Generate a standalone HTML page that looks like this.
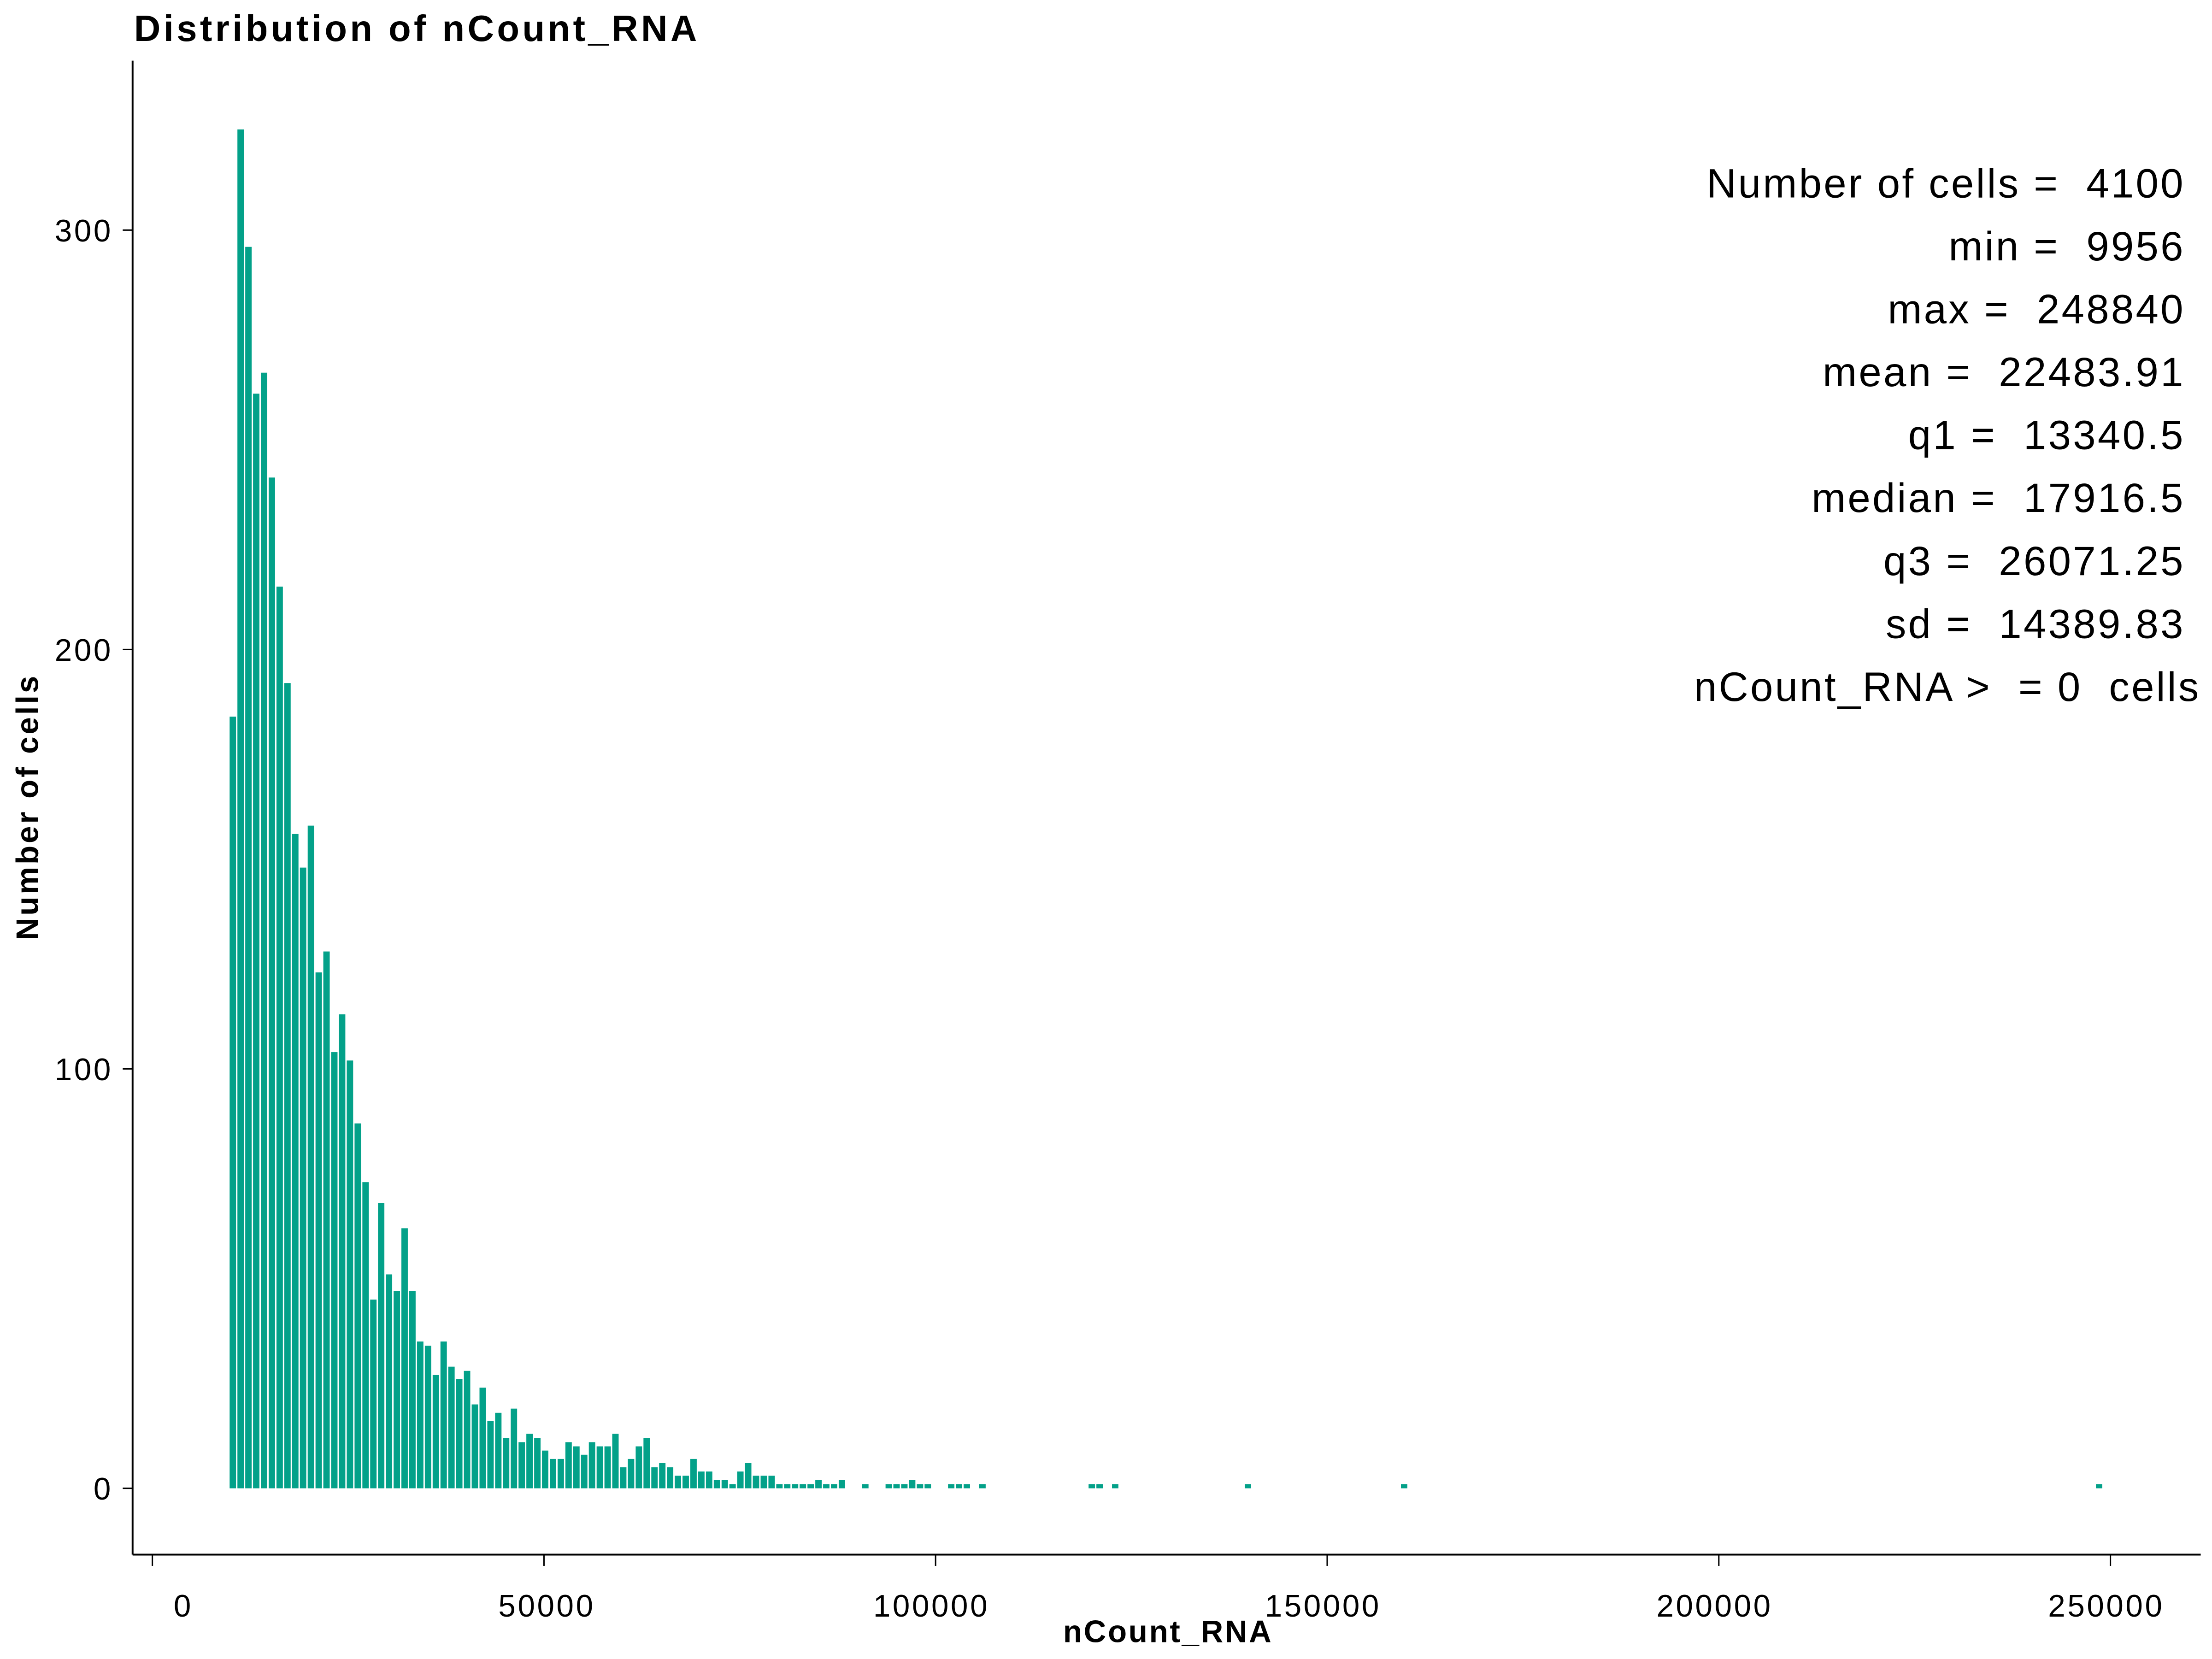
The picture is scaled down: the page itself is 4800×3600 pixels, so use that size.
<!DOCTYPE html>
<html><head><meta charset="utf-8"><style>
html,body{margin:0;padding:0;background:#fff}
svg{display:block}
text{font-family:"Liberation Sans",Arial,sans-serif;fill:#000}
</style></head><body>
<svg id="chart" width="4800" height="3600" viewBox="0 0 1568 1176" preserveAspectRatio="none" xmlns="http://www.w3.org/2000/svg">
<text x="95" y="29" font-size="26" font-weight="bold" letter-spacing="2.1">Distribution of nCount_RNA</text>
<text transform="translate(27,572) rotate(-90)" text-anchor="middle" font-size="22" font-weight="bold" letter-spacing="1.6">Number of cells</text>
<text x="828" y="1164" text-anchor="middle" font-size="22" font-weight="bold" letter-spacing="1.2">nCount_RNA</text>
<g id="bars"></g>
<g id="axes"></g>
<g id="stats"></g>
</svg>
<script>
const binStart = 9774;
const binWidth = 997;
const denseCounts = [184,324,296,261,266,241,215,192,156,148,158,123,128,104,113,102,87,73,45,68,51,47,62,47,35,34,27,35,29,26,28,20,24,16,18,12,19,11,13,12,9,7,7,11,10,8,11,10,10,13,5,7,10,12,5,6,5,3,3,7,4,4,2,2,1,4,6,3,3,3,1,1,1,1,1,2,1,1,2];
const sparseBins = [81,84,85,86,87,88,89,92,93,94,96,110,111,113,130,150,239];
const sparseCounts = [1,1,1,1,2,1,1,1,1,1,1,1,1,1,1,1,1];
const xTicks = [0,50000,100000,150000,200000,250000];
const yTicks = [0,100,200,300];
const statLines = ["Number of cells =  4100","min =  9956","max =  248840","mean =  22483.91","q1 =  13340.5","median =  17916.5","q3 =  26071.25","sd =  14389.83","nCount_RNA >  = 0  cells"];

const NS = "http://www.w3.org/2000/svg";
function xs(v){ return 108 + v * 0.005552; }
function ys(c){ return 1055 - c * 2.973; }
function mk(tag, attrs, parent){
  const e = document.createElementNS(NS, tag);
  for (const k in attrs) e.setAttribute(k, attrs[k]);
  parent.appendChild(e); return e;
}
const bars = document.getElementById('bars');
function drawBar(i, c){
  const x0 = xs(binStart + i*binWidth), x1 = xs(binStart + (i+1)*binWidth);
  const top = ys(c), h = Math.max(1.2, 1055 - top);
  const r = mk('rect', {x: x0+0.5, y: 1055 - h, width: (x1-x0)-1, height: h, fill: '#03a189'}, bars);
  
  
}
denseCounts.forEach((c,i)=>drawBar(i,c));
sparseBins.forEach((b,j)=>drawBar(b, sparseCounts[j]));

const axes = document.getElementById('axes');
const yl = mk('line', {x1:94, y1:43, x2:94, y2:1102, stroke:'#000', 'stroke-width':1.3}, axes);


const xl = mk('line', {x1:94, y1:1102, x2:1560, y2:1102, stroke:'#000', 'stroke-width':1.3}, axes);


xTicks.forEach(v=>{
  const x = xs(v);
  const lab = String(v);
  mk('line', {x1:x, y1:1102, x2:x, y2:1110, stroke:'#000', 'stroke-width':1}, axes);
  const t = mk('text', {x:x + 22 - (lab.length-1)*5, y:1146, 'text-anchor':'middle', 'font-size':22, 'letter-spacing':1.5}, axes);
  t.textContent = lab;
  
  
});
yTicks.forEach(v=>{
  const y = ys(v);
  mk('line', {x1:87, y1:y, x2:94, y2:y, stroke:'#000', 'stroke-width':1}, axes);
  const t = mk('text', {x:80, y:y+8, 'text-anchor':'end', 'font-size':22, 'letter-spacing':1.5}, axes);
  t.textContent = String(v);
  
  
});
const stats = document.getElementById('stats');
statLines.forEach((s,i)=>{
  const last = i === statLines.length-1;
  const t = mk('text', {x: last ? 1560 : 1549, y: 140 + i*44.6, 'text-anchor':'end', 'font-size':29, 'letter-spacing':1.4}, stats);
  t.setAttribute('xml:space','preserve');
  t.style.whiteSpace = 'pre';
  t.textContent = s;
  
  
});
</script>
</body></html>
